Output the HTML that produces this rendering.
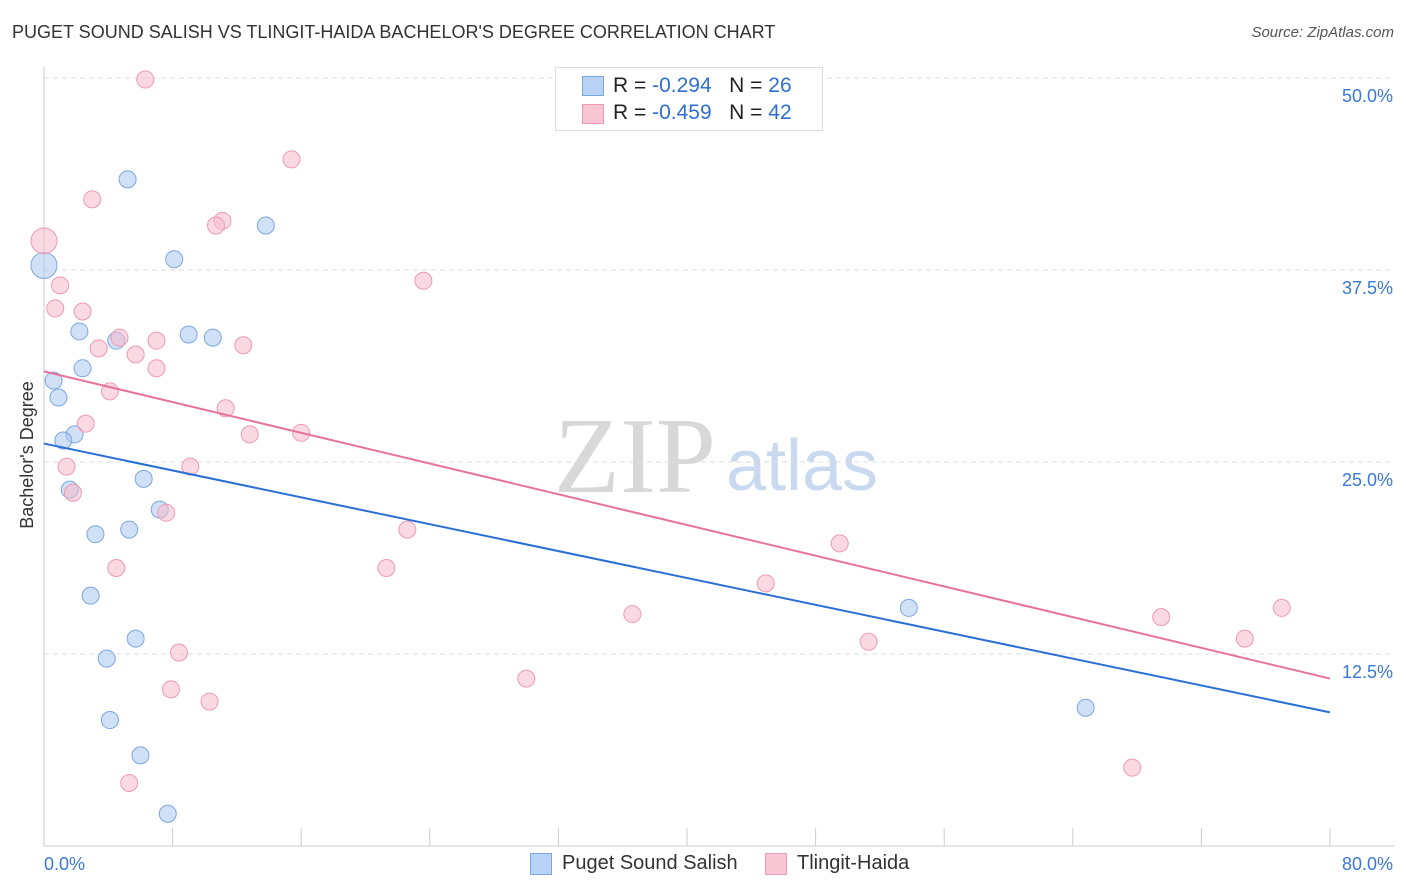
<!DOCTYPE html>
<html><head><meta charset="utf-8"><style>
body{margin:0;background:#fff;font-family:"Liberation Sans",sans-serif;}
#wrap{position:relative;width:1406px;height:892px;overflow:hidden;}
.t{position:absolute;white-space:nowrap;}
</style></head><body>
<div id="wrap">
<div class="t" style="left:12px;top:22px;font-size:18px;color:#333;">PUGET SOUND SALISH VS TLINGIT-HAIDA BACHELOR'S DEGREE CORRELATION CHART</div>
<div class="t" style="right:12px;top:24px;font-size:15px;color:#555;font-style:italic;">Source: ZipAtlas.com</div>
<svg id="svg" width="1406" height="892" style="position:absolute;left:0;top:0">
<text x="635" y="492" font-size="108" font-family="Liberation Serif,serif" fill="#d8d8d8" text-anchor="middle">ZIP</text>
<text x="802" y="490" font-size="72" font-family="Liberation Sans,sans-serif" fill="#c9d9f0" text-anchor="middle">atlas</text>
<g id="grid"></g><g id="pts"></g><g id="lines"></g>
<text x="-455" y="33" transform="rotate(-90)" font-size="18" fill="#333" text-anchor="middle">Bachelor's Degree</text>
</svg>
<div style="position:absolute;left:555px;top:67px;width:266px;height:62px;border:1px solid #ddd;background:#fff;font-size:21px;color:#222;">
<div style="position:absolute;left:26px;top:8px;width:20px;height:18px;background:#b8d2f5;border:1px solid #7ba7e0"></div>
<div class="t" style="left:57px;top:6px">R = <span style="color:#2f6fd4">-0.294</span>&nbsp;&nbsp;&nbsp;N = <span style="color:#2f6fd4">26</span></div>
<div style="position:absolute;left:26px;top:36px;width:20px;height:18px;background:#f9c6d5;border:1px solid #ee9ab5"></div>
<div class="t" style="left:57px;top:33px">R = <span style="color:#2f6fd4">-0.459</span>&nbsp;&nbsp;&nbsp;N = <span style="color:#2f6fd4">42</span></div>
</div>
<div style="position:absolute;left:530px;top:853px;width:20px;height:20px;background:#b8d2f5;border:1px solid #7ba7e0"></div>
<div class="t" style="left:562px;top:852px;font-size:20px;color:#333">Puget Sound Salish</div>
<div style="position:absolute;left:765px;top:853px;width:20px;height:20px;background:#f9c6d5;border:1px solid #ee9ab5"></div>
<div class="t" style="left:797px;top:852px;font-size:20px;color:#333">Tlingit-Haida</div>
</div>
<script>
const xTicks=[0,80];
const yTicks=[12.5,25,37.5,50];
const blueX=[0,5.2,13.8,8.1,2.2,4.5,9.0,10.5,2.4,0.6,0.9,1.9,1.2,1.6,6.2,7.2,3.2,5.3,2.9,5.7,3.9,4.1,6.0,7.7,53.8,64.8];
const blueY=[37.8,43.4,40.4,38.2,33.5,32.9,33.3,33.1,31.1,30.3,29.2,26.8,26.4,23.2,23.9,21.9,20.3,20.6,16.3,13.5,12.2,8.2,5.9,2.1,15.5,9.0];
const pinkX=[0,6.3,15.4,3.0,11.1,10.7,23.6,1.0,0.7,2.4,4.7,7.0,3.4,12.4,5.7,7.0,4.1,11.3,2.6,12.8,16.0,1.4,9.1,1.8,7.6,22.6,4.5,21.3,49.5,44.9,36.6,51.3,30.0,8.4,7.9,10.3,5.3,69.5,77.0,74.7,67.7,35.3];
const pinkY=[39.4,49.9,44.7,42.1,40.7,40.4,36.8,36.5,35.0,34.8,33.1,32.9,32.4,32.6,32.0,31.1,29.6,28.5,27.5,26.8,26.9,24.7,24.7,23.0,21.7,20.6,18.1,18.1,19.7,17.1,15.1,13.3,10.9,12.6,10.2,9.4,4.1,14.9,15.5,13.5,5.1,47.9];
const blueTrend=[26.2,8.7];
const pinkTrend=[30.9,10.9];
const X=v=>44+v*16.075, Y=v=>846-v*15.36;
const NS='http://www.w3.org/2000/svg';
function mk(p,t,a){const e=document.createElementNS(NS,t);for(const k in a)e.setAttribute(k,a[k]);p.appendChild(e);return e;}
const g=document.getElementById('grid');
yTicks.forEach(v=>{
 const l=mk(g,'line',{x1:44,x2:1394,y1:Y(v),y2:Y(v),stroke:'#ddd','stroke-dasharray':'5,4'});
 
 
 const t=mk(g,'text',{x:1393,y:Y(v)+24,'font-size':18,fill:'#3a78d8','text-anchor':'end'});t.textContent=v.toFixed(1)+'%';
 
 
});
mk(g,'line',{x1:44,x2:44,y1:67,y2:846,stroke:'#ccc'});
mk(g,'line',{x1:44,x2:1394,y1:846,y2:846,stroke:'#ccc'});
for(let i=0;i<=10;i++){mk(g,'line',{x1:X(i*8),x2:X(i*8),y1:828,y2:846,stroke:'#ccc'});}
xTicks.forEach((v,i)=>{const t=mk(g,'text',{x:i?1393:44,y:870,'font-size':18,fill:'#3a78d8','text-anchor':i?'end':'start'});t.textContent=v.toFixed(1)+'%';
 
 });
const pg=document.getElementById('pts');
function pts(xs,ys,fill,stroke,name){xs.forEach((x,i)=>{const c=mk(pg,'circle',{cx:X(x),cy:Y(ys[i]),r:i==0?13:8.5,fill:fill,'fill-opacity':0.55,stroke:stroke,'stroke-width':1});
 
 });}
pts(blueX,blueY,'#a9c8f0','#7ba7e0','puget-point');
pts(pinkX,pinkY,'#f7b9cc','#ee9ab5','tlingit-point');
const lg=document.getElementById('lines');
const b=mk(lg,'line',{x1:X(0),y1:Y(blueTrend[0]),x2:X(80),y2:Y(blueTrend[1]),stroke:'#2a6fd6','stroke-width':2});


const p=mk(lg,'line',{x1:X(0),y1:Y(pinkTrend[0]),x2:X(80),y2:Y(pinkTrend[1]),stroke:'#e8739a','stroke-width':2});


</script>
</body></html>
